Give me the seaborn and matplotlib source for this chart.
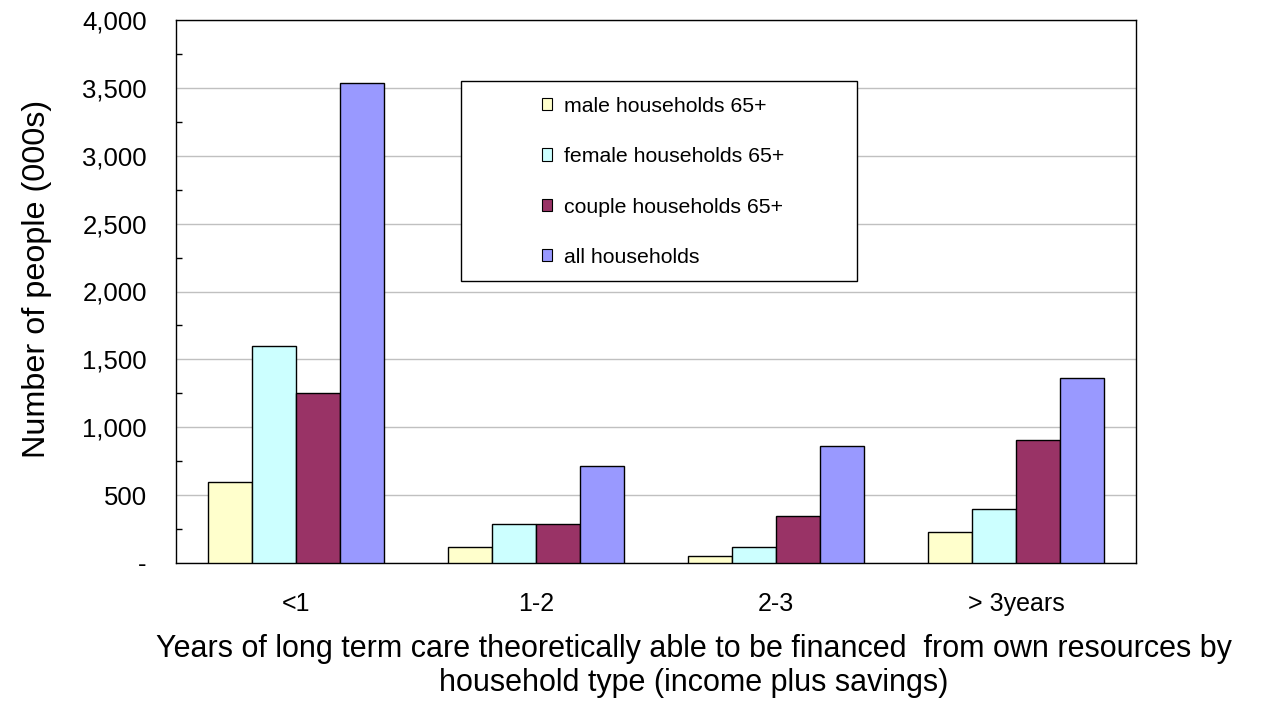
import matplotlib
matplotlib.use("Agg")
import matplotlib.pyplot as plt
import matplotlib.ticker as mticker
from matplotlib.patches import Rectangle
import numpy as np
import pandas as pd
import seaborn as sns

# Categories: years of care that can be self-financed
categories = ["<1", "1-2", "2-3", "> 3years"]

# Number of people (000s) by household type
male_65 = [600, 115, 55, 230]
female_65 = [1600, 285, 115, 400]
couple_65 = [1250, 285, 345, 905]
all_households = [3535, 715, 860, 1365]

series_names = ["male households 65+", "female households 65+",
                "couple households 65+", "all households"]
series_colors = ["#FFFFCC", "#CCFFFF", "#993366", "#9999FF"]

y_ticks = [0, 500, 1000, 1500, 2000, 2500, 3000, 3500, 4000]

rows = []
for name, vals in zip(series_names, [male_65, female_65, couple_65, all_households]):
    for cat, v in zip(categories, vals):
        rows.append({"category": cat, "series": name, "value": v})
df = pd.DataFrame(rows)

sns.set_style("white")
plt.rcParams["font.family"] = ["Liberation Sans", "DejaVu Sans"]
plt.rcParams["text.color"] = "black"
plt.rcParams["xtick.color"] = "black"
plt.rcParams["ytick.color"] = "black"
plt.rcParams["axes.labelcolor"] = "black"

W, H = 1272, 701
fig = plt.figure(figsize=(W / 100, H / 100), dpi=100)
ax = fig.add_axes([176 / W, 1 - 563 / H, 960 / W, 543 / H])

sns.barplot(data=df, x="category", y="value", hue="series",
            order=categories, hue_order=series_names,
            palette=series_colors, width=0.73, saturation=1,
            edgecolor="black", linewidth=1.0, ax=ax, legend=True, zorder=3)

ax.set_xlim(-0.5, len(categories) - 0.5)
ax.set_ylim(0, 4000)
ax.set_yticks(y_ticks)
ax.yaxis.set_minor_locator(mticker.MultipleLocator(250))
ax.yaxis.set_major_formatter(
    mticker.FuncFormatter(lambda v, p: "-" if v == 0 else f"{v:,.0f}"))
ax.grid(axis="y", color="#c0c0c0", linewidth=1.0, zorder=0)
ax.set_axisbelow(True)

# Category boundaries carry the x tick marks; labels sit at the centres
ax.set_xticks(range(len(categories)))
ax.set_xticklabels(categories)
ax.set_xticks(np.arange(-0.5, len(categories), 1.0), minor=True)
ax.tick_params(axis="x", which="major", length=0, pad=21, labelsize=18)
ax.tick_params(axis="x", which="minor", length=6, width=1, direction="out",
               color="black")
ax.tick_params(axis="y", which="major", length=5, width=1, direction="out",
               color="black", pad=16, labelsize=18.5)
ax.tick_params(axis="y", which="minor", length=4, width=1, direction="in",
               color="black", left=True)

for s in ax.spines.values():
    s.set_color("black")
    s.set_linewidth(1.0)
    s.set_visible(True)

ax.set_xlabel("")
ax.set_ylabel("")

# Two-line x-axis caption
fig.text(694 / W, 1 - 657 / H,
         "Years of long term care theoretically able to be financed  from own resources by",
         ha="center", va="baseline", fontsize=22)
fig.text(694 / W, 1 - 691 / H, "household type (income plus savings)",
         ha="center", va="baseline", fontsize=22)
fig.text(37 / W, 1 - 279 / H, "Number of people (000s)",
         rotation=90, ha="center", va="center", fontsize=23.3)

# Legend in an open box inside the plot
ax.add_patch(Rectangle((461 / W, 1 - 281 / H), 396 / W, 200 / H,
                       transform=fig.transFigure, facecolor="white",
                       edgecolor="black", linewidth=1.0, zorder=5))
handles, labels = ax.get_legend_handles_labels()
leg = ax.legend(handles, labels, loc="upper left",
                bbox_to_anchor=(531 / W, 1 - 86 / H),
                bbox_transform=fig.transFigure, frameon=False,
                fontsize=15.3, handlelength=0.5, handleheight=0.5,
                handletextpad=0.55, labelspacing=1.48, borderpad=0)
leg.set_zorder(6)
for h in leg.legend_handles:
    h.set_edgecolor("black")
    h.set_linewidth(0.8)

fig.savefig("out.png", dpi=100)
